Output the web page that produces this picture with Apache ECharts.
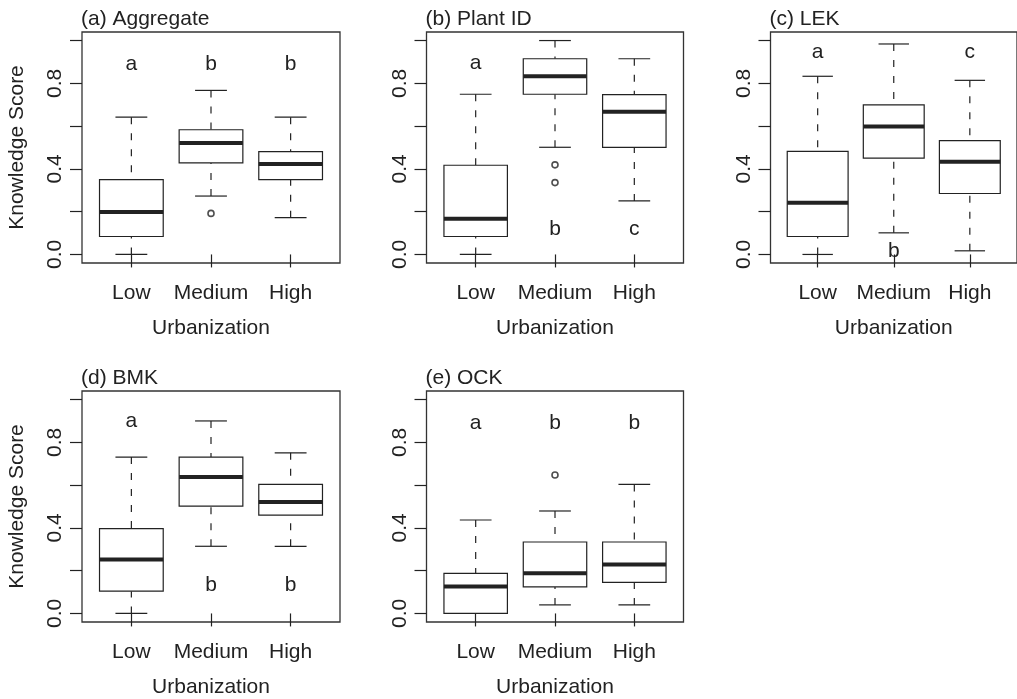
<!DOCTYPE html>
<html>
<head>
<meta charset="utf-8">
<script src="https://cdn.jsdelivr.net/npm/echarts@6/dist/echarts.min.js"></script>
<style>
  html, body { margin: 0; padding: 0; background: #fff; }
  #chart { width: 1017px; height: 699px; }
</style>
</head>
<body>
<div id="chart"></div>
<script>
const categories = ['Low', 'Medium', 'High'];
const yTickValues = [0, 0.2, 0.4, 0.6, 0.8, 1.0];
const yLabelValues = [0, 0.4, 0.8];
const panelTitles = ['(a) Aggregate', '(b) Plant ID', '(c) LEK', '(d) BMK', '(e) OCK'];

// [lower whisker, Q1, median, Q3, upper whisker] for Low, Medium, High
const aggregateBoxes = [[0.0, 0.084, 0.198, 0.350, 0.642], [0.273, 0.428, 0.521, 0.583, 0.767], [0.172, 0.350, 0.423, 0.481, 0.642]];
const plantIdBoxes   = [[0.0, 0.084, 0.167, 0.417, 0.749], [0.501, 0.749, 0.833, 0.915, 1.0], [0.250, 0.501, 0.667, 0.747, 0.915]];
const lekBoxes       = [[0.0, 0.084, 0.242, 0.482, 0.833], [0.101, 0.450, 0.598, 0.699, 0.984], [0.017, 0.285, 0.433, 0.532, 0.814]];
const bmkBoxes       = [[0.0, 0.104, 0.252, 0.397, 0.731], [0.314, 0.502, 0.638, 0.731, 0.900], [0.314, 0.460, 0.521, 0.603, 0.751]];
const ockBoxes       = [[0.0, 0.0, 0.126, 0.187, 0.437], [0.040, 0.124, 0.188, 0.334, 0.479], [0.040, 0.145, 0.229, 0.334, 0.603]];

// outliers: [category, value]
const aggregateOutliers = [['Medium', 0.192]];
const plantIdOutliers = [['Medium', 0.419], ['Medium', 0.336]];
const lekOutliers = [];
const bmkOutliers = [];
const ockOutliers = [['Medium', 0.647]];

// group letters and the height they are written at
const aggregateLetters = ['a', 'b', 'b'];
const aggregateLetterY = [0.89, 0.89, 0.89];
const plantIdLetters = ['a', 'b', 'c'];
const plantIdLetterY = [0.896, 0.12, 0.12];
const lekLetters = ['a', 'b', 'c'];
const lekLetterY = [0.946, 0.016, 0.946];
const bmkLetters = ['a', 'b', 'b'];
const bmkLetterY = [0.899, 0.132, 0.132];
const ockLetters = ['a', 'b', 'b'];
const ockLetterY = [0.89, 0.89, 0.89];

const panels = [
  { boxes: aggregateBoxes, outliers: aggregateOutliers, letters: aggregateLetters, letterY: aggregateLetterY },
  { boxes: plantIdBoxes, outliers: plantIdOutliers, letters: plantIdLetters, letterY: plantIdLetterY },
  { boxes: lekBoxes, outliers: lekOutliers, letters: lekLetters, letterY: lekLetterY },
  { boxes: bmkBoxes, outliers: bmkOutliers, letters: bmkLetters, letterY: bmkLetterY },
  { boxes: ockBoxes, outliers: ockOutliers, letters: ockLetters, letterY: ockLetterY }
];

// plot frames (layout only)
const frames = [
  { left: 82, top: 32, width: 258, height: 231 },
  { left: 426.5, top: 32, width: 257, height: 231 },
  { left: 770.5, top: 32, width: 257, height: 231 },
  { left: 82, top: 391, width: 258, height: 231.5 },
  { left: 426.5, top: 391, width: 257, height: 231.5 }
];

const ink = '#222';
const fontFamily = '"Liberation Sans", Arial, Helvetica, sans-serif';
const fontSize = 21;

function renderBox(params, api) {
  const x = api.value(0);
  const lo = api.coord([x, api.value(1)]);
  const q1 = api.coord([x, api.value(2)]);
  const med = api.coord([x, api.value(3)]);
  const q3 = api.coord([x, api.value(4)]);
  const hi = api.coord([x, api.value(5)]);
  const bw = api.size([0.8, 0])[0];
  const cx = lo[0];
  const solid = { stroke: ink, lineWidth: 1.2 };
  const dashed = { stroke: ink, lineWidth: 1.2, lineDash: [7, 9] };
  return {
    type: 'group',
    children: [
      { type: 'line', shape: { x1: cx, y1: hi[1], x2: cx, y2: q3[1] }, style: dashed },
      { type: 'line', shape: { x1: cx, y1: lo[1], x2: cx, y2: q1[1] }, style: dashed },
      { type: 'line', shape: { x1: cx - bw / 4, y1: hi[1], x2: cx + bw / 4, y2: hi[1] }, style: solid },
      { type: 'line', shape: { x1: cx - bw / 4, y1: lo[1], x2: cx + bw / 4, y2: lo[1] }, style: solid },
      { type: 'rect', shape: { x: cx - bw / 2, y: q3[1], width: bw, height: q1[1] - q3[1] },
        style: { fill: '#fff', stroke: ink, lineWidth: 1.2 } },
      { type: 'line', shape: { x1: cx - bw / 2, y1: med[1], x2: cx + bw / 2, y2: med[1] },
        style: { stroke: ink, lineWidth: 4 } }
    ]
  };
}

const option = {
  animation: false,
  backgroundColor: '#fff',
  textStyle: { fontFamily: fontFamily },
  title: [],
  grid: [],
  xAxis: [],
  yAxis: [],
  series: []
};

panels.forEach(function (p, i) {
  const f = frames[i];
  option.title.push({
    text: panelTitles[i],
    left: f.left - 1,
    top: f.top - 23,
    padding: 0,
    textStyle: { fontSize: fontSize, fontWeight: 'normal', color: ink, fontFamily: fontFamily }
  });
  option.grid.push({
    left: f.left, top: f.top, width: f.width, height: f.height,
    show: true, borderColor: '#333', borderWidth: 1.3, backgroundColor: 'transparent'
  });
  option.xAxis.push({
    gridIndex: i,
    type: 'value',
    min: 0.38,
    max: 3.62,
    axisLine: { show: false },
    splitLine: { show: false },
    axisTick: { show: true, customValues: [1, 2, 3], length: 13, lineStyle: { color: ink, width: 1.2 } },
    axisLabel: {
      customValues: [1, 2, 3],
      formatter: function (v) { return categories[Math.round(v) - 1]; },
      margin: 20, fontSize: fontSize, color: ink, fontFamily: fontFamily
    },
    name: 'Urbanization',
    nameLocation: 'middle',
    nameGap: 55,
    nameTextStyle: { fontSize: fontSize, color: ink, fontFamily: fontFamily }
  });
  const leftCol = (i === 0 || i === 3);
  option.yAxis.push({
    gridIndex: i,
    type: 'value',
    min: -0.04,
    max: 1.04,
    axisLine: { show: false },
    splitLine: { show: false },
    axisTick: { show: true, customValues: yTickValues, length: 12, lineStyle: { color: ink, width: 1.2 } },
    axisLabel: {
      customValues: yLabelValues,
      rotate: 90,
      formatter: function (v) { return v.toFixed(1); },
      margin: 16, fontSize: fontSize, color: ink, fontFamily: fontFamily
    },
    name: leftCol ? 'Knowledge Score' : '',
    nameLocation: 'middle',
    nameRotate: 90,
    nameGap: 54,
    nameTextStyle: { fontSize: fontSize, color: ink, fontFamily: fontFamily }
  });
  option.series.push({
    type: 'custom',
    xAxisIndex: i,
    yAxisIndex: i,
    renderItem: renderBox,
    clip: false,
    encode: { x: 0, y: [1, 2, 3, 4, 5] },
    data: p.boxes.map(function (s, k) { return [k + 1].concat(s); })
  });
  option.series.push({
    type: 'scatter',
    xAxisIndex: i,
    yAxisIndex: i,
    symbol: 'circle',
    symbolSize: 6,
    itemStyle: { color: '#fff', borderColor: ink, borderWidth: 1.6 },
    data: p.outliers.map(function (o) { return [categories.indexOf(o[0]) + 1, o[1]]; })
  });
  option.series.push({
    type: 'custom',
    xAxisIndex: i,
    yAxisIndex: i,
    clip: false,
    encode: { x: 0, y: 1 },
    renderItem: function (params, api) {
      const pt = api.coord([api.value(0), api.value(1)]);
      return {
        type: 'text',
        x: pt[0],
        y: pt[1],
        style: {
          text: p.letters[params.dataIndex],
          fill: ink,
          font: fontSize + 'px ' + fontFamily,
          align: 'center',
          verticalAlign: 'middle'
        }
      };
    },
    data: p.letterY.map(function (y, k) { return [k + 1, y]; })
  });
});

const chart = echarts.init(document.getElementById('chart'));
chart.setOption(option);
</script>
</body>
</html>
